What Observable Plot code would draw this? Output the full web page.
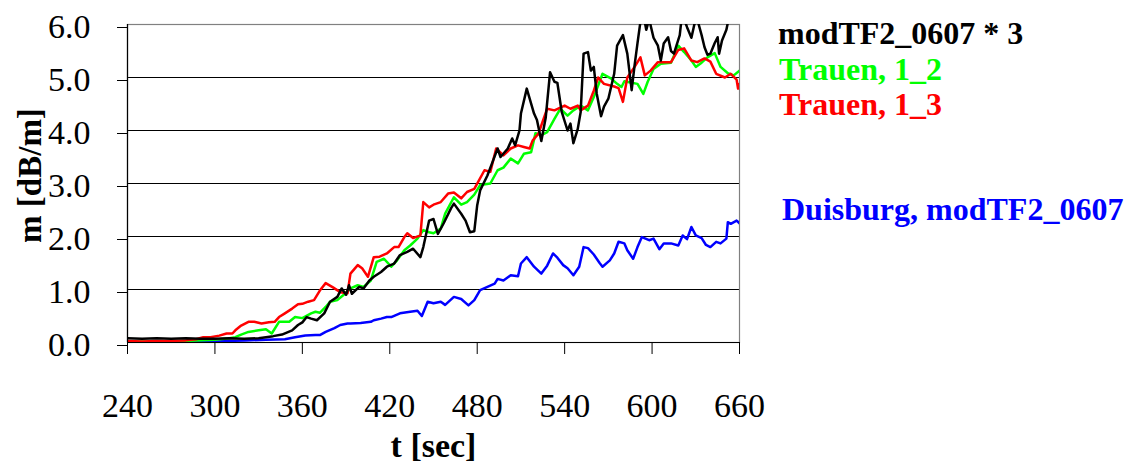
<!DOCTYPE html>
<html>
<head>
<meta charset="utf-8">
<script src="https://cdn.jsdelivr.net/npm/d3@7"></script>
<script src="https://cdn.jsdelivr.net/npm/@observablehq/plot@0.6"></script>
<style>
  html, body { margin: 0; padding: 0; background: #fff; font-family: 'Liberation Serif', serif; }
  #wrap { position: relative; width: 1129px; height: 466px; }
  .leg { position: absolute; font-family: 'Liberation Serif', serif; font-weight: bold; font-size: 32px; line-height: 32px; white-space: nowrap; }
</style>
</head>
<body>
<div id="wrap"></div>
<script>
// ---- data (t in sec, m in dB/m) ----
const xTicks = [240, 300, 360, 420, 480, 540, 600, 660];
const yTicks = [0, 1, 2, 3, 4, 5, 6];

const seriesNames = ["modTF2_0607 * 3", "Trauen, 1_2", "Trauen, 1_3", "Duisburg, modTF2_0607"];
const seriesColors = ["#000000", "#00ff00", "#ff0000", "#0000ff"];

const black = [[240,0.08],[250,0.07],[260,0.08],[270,0.07],[280,0.08],[290,0.07],[300,0.07],[310,0.08],[320,0.07],[330,0.08],[335,0.1],[340,0.12],[346,0.15],[353,0.23],[357,0.33],[360,0.38],[363,0.48],[366,0.45],[370,0.42],[375,0.55],[379,0.77],[384,0.86],[387,1.02],[390,0.9],[392,1.08],[394,0.92],[399,1.05],[402,1.02],[406,1.17],[409,1.24],[414,1.33],[418,1.43],[423,1.49],[427,1.65],[432,1.71],[436,1.77],[441,1.61],[443,1.8],[447,2.3],[450,2.33],[453,2.05],[457,2.25],[462,2.53],[464,2.62],[469,2.43],[472,2.3],[475,2.08],[478,2.1],[480,2.59],[482,2.87],[487,3.15],[491,3.44],[494,3.66],[496,3.5],[501,3.66],[504,3.85],[506,3.72],[509,4.0],[510,4.32],[514,4.79],[519,4.32],[521,4.2],[524,3.8],[527,4.24],[530,5.1],[533,4.92],[535,4.9],[538,4.35],[542,4.0],[544,4.13],[546,3.76],[549,4.03],[551,4.35],[553,5.45],[556,5.48],[558,5.13],[560,5.2],[562,4.7],[565,4.27],[567,4.45],[570,4.6],[574,5.07],[576,5.6],[580,5.8],[583,5.45],[586,4.76],[588,5.23],[590,5.65],[592,6.05],[594,6.2],[596,5.9],[598,6.1],[601,5.75],[604,5.6],[606,5.32],[608,5.64],[611,5.76],[613,5.5],[615,5.45],[619,5.8],[620,6.05],[622,6.1],[624,5.95],[627,5.75],[629,6.0],[631,6.1],[634,5.8],[636,5.57],[638,5.43],[640,5.45],[643,5.65],[645,5.76],[646,5.45],[648,5.7],[651,5.9],[654,6.3]];

const green = [[240,0.02],[260,0.02],[280,0.03],[300,0.05],[310,0.08],[314,0.1],[318,0.15],[323,0.2],[330,0.23],[335,0.25],[339,0.17],[344,0.39],[351,0.39],[355,0.48],[360,0.46],[366,0.55],[369,0.58],[372,0.56],[376,0.67],[379,0.77],[384,0.8],[388,0.89],[393,1.02],[398,1.08],[402,1.05],[407,1.17],[411,1.52],[416,1.58],[421,1.43],[425,1.55],[430,1.74],[434,1.83],[439,1.96],[443,2.12],[447,2.08],[450,2.06],[455,2.15],[458,2.43],[464,2.74],[469,2.6],[473,2.65],[478,2.79],[482,2.97],[489,3.0],[494,3.25],[498,3.3],[503,3.47],[508,3.38],[512,3.56],[517,3.59],[520,3.95],[524,3.91],[528,3.97],[533,4.22],[537,4.41],[542,4.28],[546,4.38],[551,4.47],[556,4.38],[560,4.63],[563,4.85],[566,5.07],[572,4.98],[576,4.88],[579,4.82],[581,4.93],[586,4.9],[590,4.88],[594,4.69],[597,4.92],[601,5.16],[606,5.26],[613,5.28],[618,5.6],[622,5.48],[627,5.32],[630,5.2],[634,5.28],[638,5.38],[643,5.46],[647,5.2],[652,5.08],[656,5.04],[660,5.13]];

const red = [[240,0.03],[250,0.02],[260,0.03],[270,0.03],[280,0.04],[287,0.06],[292,0.1],[297,0.1],[303,0.13],[308,0.17],[312,0.17],[314,0.23],[318,0.32],[323,0.39],[327,0.39],[332,0.36],[337,0.38],[341,0.39],[344,0.48],[348,0.55],[353,0.64],[357,0.72],[360,0.73],[364,0.77],[368,0.8],[372,0.98],[376,1.12],[381,1.04],[386,0.95],[391,0.93],[393,1.3],[398,1.46],[401,1.4],[405,1.24],[409,1.61],[413,1.62],[418,1.68],[423,1.8],[426,1.8],[430,1.99],[432,2.06],[436,1.97],[441,2.02],[443,2.65],[447,2.55],[450,2.6],[455,2.65],[460,2.81],[464,2.83],[469,2.72],[473,2.84],[478,2.9],[485,3.25],[489,3.22],[493,3.66],[498,3.53],[503,3.66],[508,3.72],[512,3.69],[516,3.66],[518,3.81],[522,3.94],[528,4.41],[533,4.38],[540,4.47],[544,4.41],[549,4.47],[551,4.38],[556,4.47],[560,4.75],[563,5.0],[567,4.88],[574,4.83],[577,4.8],[580,4.54],[583,5.0],[588,5.2],[592,5.38],[595,5.04],[599,5.13],[604,5.29],[608,5.29],[613,5.29],[618,5.52],[622,5.55],[627,5.32],[631,5.29],[636,5.36],[640,5.3],[644,5.07],[650,5.0],[654,5.07],[658,4.96],[659,4.79],[660,4.88]];

const blue = [[240,0.0],[260,0.0],[280,0.01],[300,0.02],[321,0.04],[335,0.05],[348,0.06],[355,0.1],[362,0.13],[369,0.14],[372,0.14],[376,0.2],[382,0.27],[386,0.33],[391,0.36],[393,0.36],[400,0.37],[407,0.39],[409,0.42],[414,0.45],[418,0.48],[421,0.48],[427,0.55],[434,0.58],[439,0.6],[442,0.5],[446,0.77],[450,0.74],[455,0.77],[458,0.71],[464,0.86],[469,0.82],[474,0.7],[478,0.8],[482,0.99],[487,1.05],[492,1.11],[494,1.2],[498,1.17],[503,1.27],[508,1.25],[510,1.49],[514,1.61],[519,1.43],[524,1.3],[528,1.45],[532,1.68],[535,1.6],[539,1.46],[542,1.4],[546,1.27],[550,1.43],[553,1.8],[556,1.78],[560,1.66],[564,1.5],[566,1.43],[571,1.55],[574,1.68],[577,1.9],[581,1.87],[583,1.74],[587,1.58],[590,1.8],[593,1.99],[598,1.93],[601,1.96],[605,1.76],[608,1.87],[613,1.87],[618,1.83],[621,2.02],[624,1.95],[627,2.18],[630,2.02],[634,1.97],[637,1.84],[640,1.8],[644,1.9],[647,1.87],[651,1.96],[652,2.27],[654,2.24],[658,2.3],[660,2.25]];

const xLabel = "t [sec]";
const yLabel = "m [dB/m]";

// ---- chart ----
const font = "Liberation Serif, serif";
const lineOpts = (color) => ({x: d => d[0], y: d => d[1], stroke: color, strokeWidth: 2.5, clip: true});

const chart = Plot.plot({
  width: 1129,
  height: 466,
  marginLeft: 127,
  marginRight: 390,
  marginTop: 24,
  marginBottom: 124,
  style: {fontFamily: font, fontSize: "34px", color: "#000", background: "#fff", overflow: "visible"},
  x: {domain: [240, 660]},
  y: {domain: [0, 6]},
  marks: [
    Plot.ruleY(yTicks, {stroke: "#000", strokeWidth: 1}),
    Plot.frame({stroke: "#808080", strokeWidth: 1.2}),
    Plot.line(blue, lineOpts(seriesColors[3])),
    Plot.line(green, lineOpts(seriesColors[1])),
    Plot.line(red, lineOpts(seriesColors[2])),
    Plot.line(black, lineOpts(seriesColors[0])),
    Plot.ruleX([240], {stroke: "#000", strokeWidth: 1.2}),
    Plot.ruleY([0], {stroke: "#000", strokeWidth: 1.2}),
    Plot.axisX({ticks: xTicks, tickFormat: d => String(d), tickSize: 12, tickPadding: 38, label: null, fontSize: 34, stroke: "#000"}),
    Plot.axisY({ticks: yTicks, tickFormat: d => d.toFixed(1), tickSize: 10, tickPadding: 27, label: null, fontSize: 34, dy: 3, stroke: "#000"}),
    Plot.text([xLabel], {frameAnchor: "bottom", dy: 104, fontWeight: "bold", fontSize: 34, textAnchor: "middle", lineAnchor: "middle"}),
    Plot.text([yLabel], {frameAnchor: "left", dx: -97, dy: -8, rotate: -90, fontWeight: "bold", fontSize: 33, textAnchor: "middle", lineAnchor: "middle"})
  ]
});

const wrap = document.getElementById("wrap");
wrap.appendChild(chart);

// legend (to the right of the plot)
const legTops = [16.5, 52.5, 88, 192.5];
const legLefts = [778, 779, 779, 782];
seriesNames.forEach((name, i) => {
  const el = document.createElement("div");
  el.className = "leg";
  el.textContent = name;
  el.style.color = seriesColors[i];
  el.style.top = legTops[i] + "px";
  el.style.left = legLefts[i] + "px";
  wrap.appendChild(el);
});
</script>
</body>
</html>
